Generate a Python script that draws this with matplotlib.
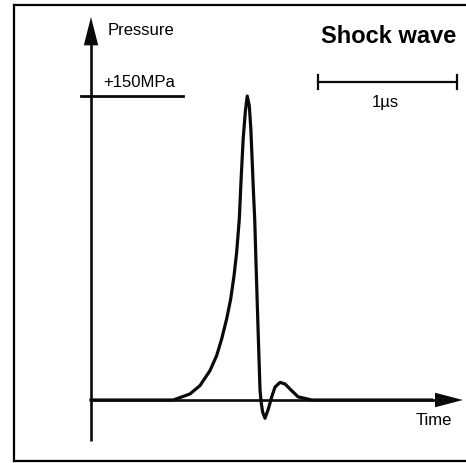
import matplotlib
matplotlib.use("Agg")
import matplotlib.pyplot as plt
from matplotlib.lines import Line2D
from matplotlib.patches import Polygon

plt.rcParams['font.family'] = ['Liberation Sans', 'DejaVu Sans']

# Shock-wave pressure trace: time in microseconds, pressure in MPa
time_us = [0.00, 0.50, 0.592, 0.712, 0.784, 0.856, 0.904, 0.940, 0.976, 1.005,
           1.029, 1.048, 1.067, 1.080, 1.095, 1.110, 1.124, 1.139, 1.150,
           1.160, 1.170, 1.178, 1.187, 1.201, 1.216, 1.224, 1.235, 1.252,
           1.276, 1.300, 1.324, 1.360, 1.396, 1.444, 1.491, 1.527, 1.588,
           1.65, 2.45]
pressure_mpa = [0.0, 0.0, 0.0, 3.0, 7.1, 14.5, 21.9, 30.1, 40.0, 49.8,
                61.3, 72.9, 89.3, 109.0, 129.0, 142.0, 150.0, 145.2, 133.7,
                117.4, 100.8, 89.0, 68.0, 37.0, 5.0, -1.0, -6.0, -9.0,
                -4.4, 1.5, 6.4, 8.7, 7.9, 4.6, 1.5, 1.0, 0.0,
                0.0, 0.0]

peak_label = "+150MPa"
peak_level = 150.0
scale_start, scale_len = 1.633, 1.0   # 1 µs scale bar
scale_label = "1\u00b5s"

fig = plt.figure(figsize=(4.66, 4.64), dpi=100)
ax = fig.add_axes([0, 0, 1, 1])
ax.set_xlim(-0.6547, 2.698)
ax.set_ylim(-31.08, 197.86)
ax.axis('off')

# outer frame (top, left, bottom)
for xs, ys in [([0.030, 1.0], [0.986, 0.986]),
               ([0.030, 0.030], [0.986, 0.004]),
               ([0.030, 1.0], [0.004, 0.004])]:
    fig.add_artist(Line2D(xs, ys, transform=fig.transFigure, color='black', lw=1.6))

ink = '#0a0a0a'

# pressure axis with arrow
ax.plot([0, 0], [-20.2, 176], color=ink, lw=1.9, solid_capstyle='butt')
ax.add_patch(Polygon([[-0.052, 175.0], [0.052, 175.0], [0, 189.0]],
                     closed=True, color=ink, lw=0))
# time axis with arrow
ax.plot([0, 2.48], [0, 0], color=ink, lw=1.9, solid_capstyle='butt')
ax.add_patch(Polygon([[2.475, -3.6], [2.475, 3.6], [2.676, 0]],
                     closed=True, color=ink, lw=0))

# reference level line
ax.plot([-0.072, 0.662], [peak_level, peak_level], color=ink, lw=2.0)

# pressure trace
ax.plot(time_us, pressure_mpa, color=ink, lw=2.3, solid_joinstyle='round')

# scale bar
ax.plot([scale_start, scale_start + scale_len], [156.9, 156.9], color=ink, lw=1.6)
for xe in (scale_start, scale_start + scale_len):
    ax.plot([xe, xe], [153.4, 160.4], color=ink, lw=1.6)

fs = 12
ax.text(0.122, 180.8, "Pressure", fontsize=fs, va='baseline', ha='left')
ax.text(0.086, 154.9, peak_label, fontsize=fs, va='baseline', ha='left')
ax.text(1.655, 176.6, "Shock wave", fontsize=17, fontweight='bold',
        va='baseline', ha='left')
ax.text(2.115, 145.1, scale_label, fontsize=fs, va='baseline', ha='center')
ax.text(2.338, -11.8, "Time", fontsize=fs, va='baseline', ha='left')

fig.savefig("out.png", dpi=100)
